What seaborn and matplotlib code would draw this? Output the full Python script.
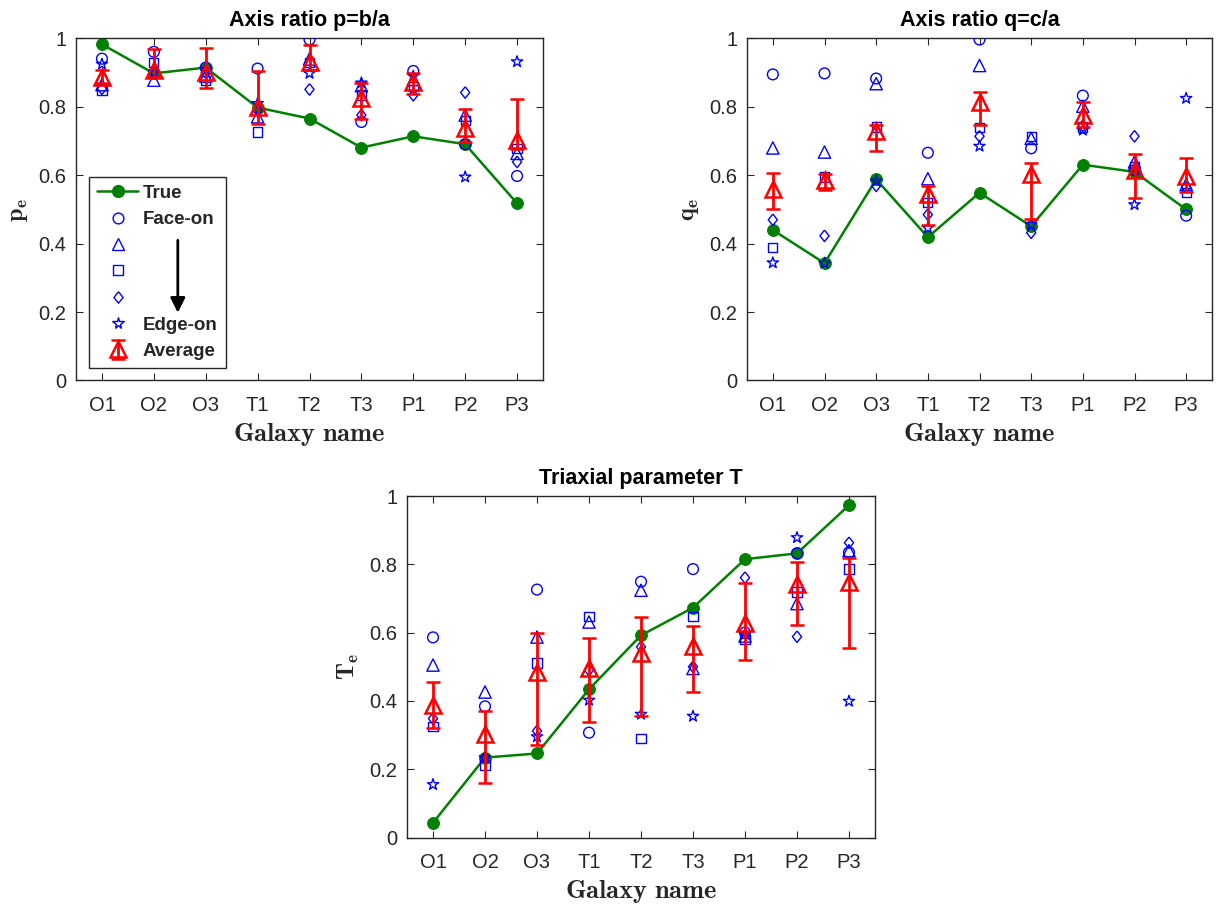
import numpy as np
import pandas as pd
import matplotlib
matplotlib.use("Agg")
import matplotlib.pyplot as plt
import seaborn as sns
from matplotlib.lines import Line2D

galaxies = ['O1', 'O2', 'O3', 'T1', 'T2', 'T3', 'P1', 'P2', 'P3']
yticks = [0, 0.2, 0.4, 0.6, 0.8, 1]
ytick_labels = ['0', '0.2', '0.4', '0.6', '0.8', '1']

# p = b/a
p_true = [0.983, 0.898, 0.915, 0.798, 0.766, 0.681, 0.714, 0.691, 0.518]
p_face = [0.941, 0.961, 0.915, 0.912, 0.997, 0.756, 0.905, 0.691, 0.598]
p_tri = [0.865, 0.878, 0.890, 0.771, 0.940, 0.862, 0.880, 0.776, 0.664]
p_sq = [0.849, 0.930, 0.878, 0.727, 0.930, 0.835, 0.860, 0.761, 0.679]
p_dia = [0.853, 0.905, 0.900, 0.790, 0.851, 0.776, 0.834, 0.842, 0.639]
p_edge = [0.925, 0.900, 0.910, 0.810, 0.898, 0.870, 0.890, 0.595, 0.932]
p_avg = [0.888, 0.907, 0.902, 0.800, 0.932, 0.825, 0.873, 0.737, 0.703]
p_lo = [0.870, 0.888, 0.854, 0.751, 0.909, 0.766, 0.839, 0.698, 0.678]
p_hi = [0.907, 0.969, 0.971, 0.905, 0.980, 0.871, 0.898, 0.793, 0.822]

# q = c/a
q_true = [0.440, 0.343, 0.588, 0.419, 0.549, 0.451, 0.631, 0.610, 0.500]
q_face = [0.895, 0.898, 0.883, 0.666, 0.997, 0.679, 0.833, 0.615, 0.482]
q_tri = [0.680, 0.668, 0.868, 0.590, 0.921, 0.708, 0.802, 0.639, 0.573]
q_sq = [0.388, 0.595, 0.741, 0.520, 0.740, 0.714, 0.741, 0.625, 0.549]
q_dia = [0.470, 0.423, 0.569, 0.485, 0.714, 0.432, 0.745, 0.714, 0.565]
q_edge = [0.344, 0.343, 0.583, 0.446, 0.685, 0.456, 0.732, 0.514, 0.825]
q_avg = [0.561, 0.585, 0.729, 0.544, 0.814, 0.603, 0.776, 0.615, 0.598]
q_lo = [0.502, 0.556, 0.671, 0.456, 0.747, 0.471, 0.741, 0.534, 0.550]
q_hi = [0.607, 0.603, 0.746, 0.569, 0.843, 0.637, 0.815, 0.661, 0.651]

# Triaxial parameter T
T_true = [0.043, 0.234, 0.246, 0.434, 0.592, 0.673, 0.815, 0.832, 0.973]
T_face = [0.586, 0.384, 0.726, 0.307, 0.749, 0.786, 0.600, 0.832, 0.835]
T_tri = [0.505, 0.426, 0.587, 0.631, 0.724, 0.495, 0.590, 0.685, 0.840]
T_sq = [0.326, 0.212, 0.511, 0.648, 0.289, 0.648, 0.580, 0.719, 0.786]
T_dia = [0.348, 0.235, 0.312, 0.490, 0.558, 0.500, 0.761, 0.588, 0.863]
T_edge = [0.155, 0.234, 0.295, 0.402, 0.361, 0.355, 0.595, 0.878, 0.399]
T_avg = [0.387, 0.302, 0.485, 0.495, 0.539, 0.560, 0.627, 0.742, 0.749]
T_lo = [0.322, 0.160, 0.270, 0.339, 0.355, 0.425, 0.519, 0.622, 0.556]
T_hi = [0.454, 0.371, 0.600, 0.584, 0.646, 0.620, 0.746, 0.807, 0.817]

sns.set_theme(style='ticks')
plt.rcParams['font.family'] = ['Liberation Sans', 'DejaVu Sans']
plt.rcParams['mathtext.fontset'] = 'cm'
plt.rcParams['xtick.direction'] = 'in'
plt.rcParams['ytick.direction'] = 'in'

BLUE = '#0000ff'
RED = '#ff0000'
GREEN = '#008000'
SPINE = '#262626'

fig = plt.figure(figsize=(12.2, 9.05), dpi=100)
W, H = 1220.0, 905.0

def axes_px(left, top, width, height):
    return fig.add_axes([left / W, 1 - (top + height) / H, width / W, height / H])

ax1 = axes_px(76, 38.5, 467, 342)
ax2 = axes_px(747, 38.5, 465, 342)
ax3 = axes_px(407, 496, 468, 341.5)

diamond = [(0, 1), (0.8, 0), (0, -1), (-0.8, 0), (0, 1)]
blue_specs = [('o', 60), ('^', 78), ('s', 45), (diamond, 68), ('*', 72)]

def panel(ax, true, face, tri, sq, dia, edge, avg, lo, hi, title, ylab):
    pos = np.arange(1, len(galaxies) + 1)
    df = pd.DataFrame({'pos': pos, 'true': true, 'face': face, 'tri': tri,
                       'sq': sq, 'dia': dia, 'edge': edge,
                       'avg': avg, 'lo': lo, 'hi': hi})
    sns.lineplot(data=df, x='pos', y='true', ax=ax, color=GREEN, linewidth=1.8,
                 marker='o', markersize=8.5, markeredgecolor=GREEN,
                 markerfacecolor=GREEN, zorder=2, label='_nolegend_')
    handles = []
    for col, (m, s) in zip(['face', 'tri', 'sq', 'dia', 'edge'], blue_specs):
        sns.scatterplot(data=df, x='pos', y=col, ax=ax, marker=m, s=s,
                        facecolor='none', edgecolor=BLUE, linewidth=1.0,
                        zorder=3, label='_nolegend_')
        handles.append(Line2D([], [], linestyle='none', marker=m,
                              markersize=np.sqrt(s), markerfacecolor='none',
                              markeredgecolor=BLUE, markeredgewidth=1.0))
    yerr = np.vstack([df['avg'] - df['lo'], df['hi'] - df['avg']])
    eb = ax.errorbar(df['pos'], df['avg'], yerr=yerr, fmt='^', color=RED,
                     mfc='none', mec=RED, ms=11, mew=1.8, elinewidth=2,
                     capsize=5, capthick=2, zorder=4)
    ax.set_xlim(0.5, len(galaxies) + 0.5)
    ax.set_ylim(0, 1)
    ax.set_xticks(pos)
    ax.set_xticklabels(galaxies)
    ax.set_yticks(yticks)
    ax.set_yticklabels(ytick_labels)
    ax.tick_params(axis='both', which='both', direction='in', top=True,
                   right=True, length=5, width=0.8, color=SPINE,
                   labelsize=14.5, labelcolor=SPINE)
    ax.tick_params(axis='x', pad=11.5)
    ax.tick_params(axis='y', pad=7)
    for sp in ax.spines.values():
        sp.set_visible(True)
        sp.set_color(SPINE)
        sp.set_linewidth(1.0)
    ax.set_title(title, fontsize=15.5, fontweight='bold', pad=9, color='black')
    ax.set_xlabel(r'$\mathbf{Galaxy\ name}$', fontsize=19, labelpad=4,
                  color=SPINE)
    ax.set_ylabel(ylab, fontsize=17.5, labelpad=6, color=SPINE)
    true_handle = Line2D([], [], color=GREEN, linewidth=1.8, marker='o',
                         markersize=8.5, markerfacecolor=GREEN, markeredgecolor=GREEN)
    return [true_handle] + handles + [eb]

h = panel(ax1, p_true, p_face, p_tri, p_sq, p_dia, p_edge, p_avg, p_lo, p_hi,
          'Axis ratio p=b/a', r'$\mathbf{p}_{\mathbf{e}}$')
panel(ax2, q_true, q_face, q_tri, q_sq, q_dia, q_edge, q_avg, q_lo, q_hi,
      'Axis ratio q=c/a', r'$\mathbf{q}_{\mathbf{e}}$')
panel(ax3, T_true, T_face, T_tri, T_sq, T_dia, T_edge, T_avg, T_lo, T_hi,
      'Triaxial parameter T', r'$\mathbf{T}_{\mathbf{e}}$')

labels = ['True', 'Face-on', ' ', ' ', ' ', 'Edge-on', 'Average']
leg = ax1.legend(h, labels, loc='upper left', bbox_to_anchor=(0.028, 0.595),
                 frameon=True, fancybox=False, framealpha=1, edgecolor=SPINE,
                 borderpad=0.42, labelspacing=0.49, handlelength=2.2,
                 handletextpad=0.25, borderaxespad=0,
                 prop={'weight': 'bold', 'size': 13.5})
leg.get_frame().set_linewidth(1.0)
leg.set_zorder(5)
ax1.annotate('', xy=(0.218, 0.19), xytext=(0.218, 0.418), xycoords='axes fraction',
             arrowprops=dict(arrowstyle='-|>', lw=2, color='black', mutation_scale=22),
             zorder=10)

fig.savefig('out.png', dpi=100)
